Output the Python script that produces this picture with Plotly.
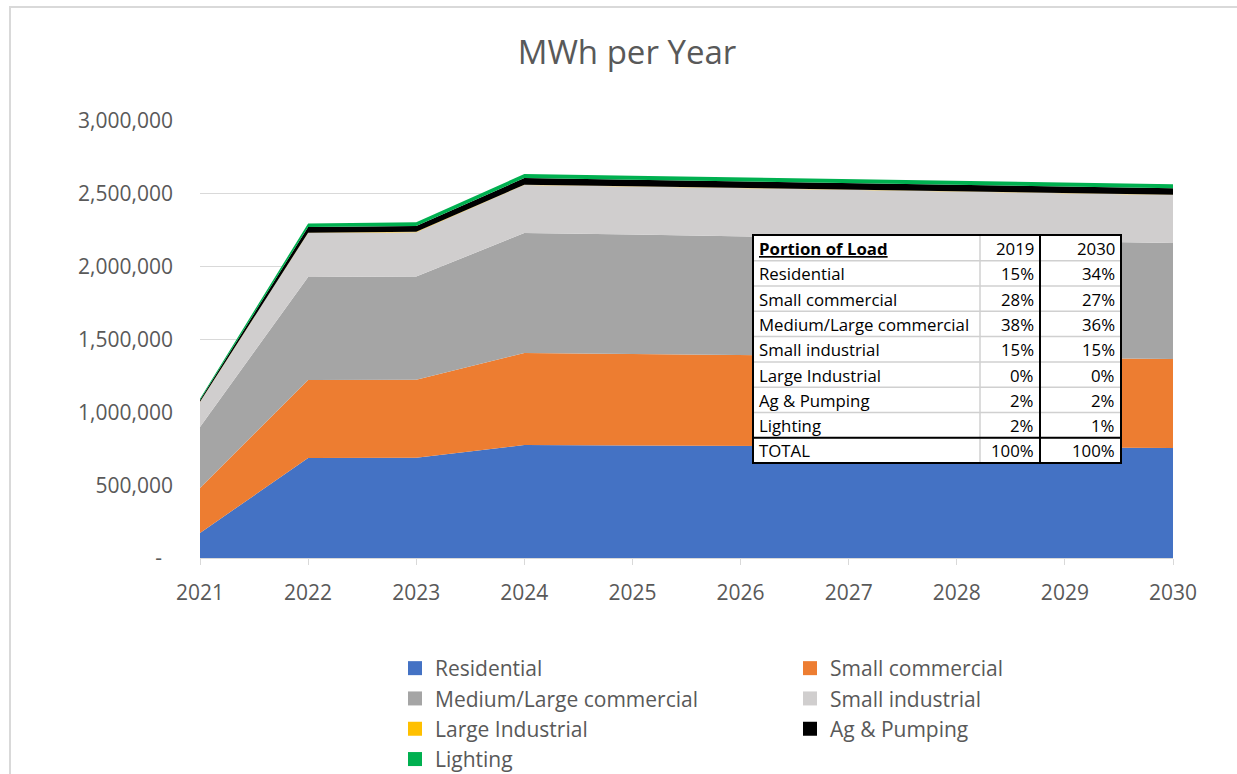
import plotly.graph_objects as go

# Annual energy by customer class (MWh)
years = [2021, 2022, 2023, 2024, 2025, 2026, 2027, 2028, 2029, 2030]
residential = [172000, 686000, 688000, 776000, 773000, 770000, 766000, 763000, 759000, 755000]
small_commercial = [308000, 536000, 536000, 631000, 628000, 624000, 621000, 618000, 614000, 611000]
medium_large_commercial = [420000, 707000, 708000, 824000, 819000, 815000, 810000, 805000, 801000, 796000]
small_industrial = [171000, 302000, 305000, 330000, 330000, 330000, 330000, 330000, 330000, 330000]
large_industrial = [1000, 2000, 2000, 2000, 2000, 2000, 2000, 2000, 2000, 2000]
ag_pumping = [12000, 40000, 41000, 45000, 45000, 45000, 44000, 44000, 44000, 44000]
lighting = [10000, 24000, 25000, 28000, 28000, 28000, 28000, 28000, 28000, 28000]

series_names = ["Residential", "Small commercial", "Medium/Large commercial",
                "Small industrial", "Large Industrial", "Ag & Pumping", "Lighting"]
series_colors = ["#4472C4", "#ED7D31", "#A5A5A5", "#D0CECE", "#FFC000", "#000000", "#00B050"]
series_values = [residential, small_commercial, medium_large_commercial,
                 small_industrial, large_industrial, ag_pumping, lighting]

y_tick_values = [0, 500000, 1000000, 1500000, 2000000, 2500000, 3000000]
y_tick_labels = ["-\u00a0\u00a0", "500,000", "1,000,000", "1,500,000", "2,000,000", "2,500,000", "3,000,000"]
x_tick_labels = [str(y) for y in years]

# Load-share table
table_header = ["Portion of Load", "2019", "2030"]
table_classes = ["Residential", "Small commercial", "Medium/Large commercial", "Small industrial",
                 "Large Industrial", "Ag & Pumping", "Lighting", "TOTAL"]
share_2019 = ["15%", "28%", "38%", "15%", "0%", "2%", "2%", "100%"]
share_2030 = ["34%", "27%", "36%", "15%", "0%", "2%", "1%", "100%"]

FONT = "Open Sans"
GREY_TEXT = "#595959"
GRID = "#D9D9D9"

# plot area in pixels
PLOT_L, PLOT_R, PLOT_T, PLOT_B = 200, 1173, 121, 558


def px_x(px):
    return (px - PLOT_L) / (PLOT_R - PLOT_L)


def px_y(py):
    return (PLOT_B - py) / (PLOT_B - PLOT_T)


fig = go.Figure()

for name, color, vals in zip(series_names, series_colors, series_values):
    fig.add_trace(go.Scatter(
        x=years, y=vals, name=name, mode="lines", stackgroup="load",
        line=dict(width=0, color=color), fillcolor=color, showlegend=False,
        hoverinfo="x+y+name",
    ))

# Legend entries (square swatches), split into two columns
left_col = [0, 2, 4, 6]
for i, (name, color) in enumerate(zip(series_names, series_colors)):
    fig.add_trace(go.Scatter(
        x=[None], y=[None], name=name, mode="markers",
        marker=dict(symbol="square", size=14, color=color),
        showlegend=True, legendgroup=name,
        legend="legend" if i in left_col else "legend2",
    ))

shapes = [
    # chart frame
    dict(type="rect", xref="paper", yref="paper", x0=px_x(10), x1=1.2, y0=-0.7, y1=px_y(7),
         line=dict(color="#D9D9D9", width=2), layer="below"),
]
annotations = []

# ---- table overlay ----
col_edges = [753, 980, 1040, 1121]
header_h, row_h = 25.7, 25.3
tbl_top = 235
row_edges = [tbl_top, tbl_top + header_h] + [tbl_top + header_h + row_h * (k + 1) for k in range(len(table_classes))]
tbl_bot = row_edges[-1]

shapes.append(dict(type="rect", xref="paper", yref="paper", x0=px_x(col_edges[0]), x1=px_x(col_edges[-1]),
                   y0=px_y(tbl_bot), y1=px_y(tbl_top), fillcolor="white", line=dict(width=0), layer="above"))
for ry in row_edges[1:-1]:
    shapes.append(dict(type="line", xref="paper", yref="paper", x0=px_x(col_edges[0]), x1=px_x(col_edges[-1]),
                       y0=px_y(ry), y1=px_y(ry), line=dict(color="#D0D0D0", width=1.5), layer="above"))
shapes.append(dict(type="line", xref="paper", yref="paper", x0=px_x(col_edges[1]), x1=px_x(col_edges[1]),
                   y0=px_y(tbl_bot), y1=px_y(tbl_top), line=dict(color="#D0D0D0", width=1.5), layer="above"))
# black borders: outline, column split before 2030, rule above TOTAL
shapes += [
    dict(type="rect", xref="paper", yref="paper", x0=px_x(col_edges[0]), x1=px_x(col_edges[-1]),
         y0=px_y(tbl_bot), y1=px_y(tbl_top), line=dict(color="#000000", width=2), layer="above"),
    dict(type="line", xref="paper", yref="paper", x0=px_x(col_edges[2]), x1=px_x(col_edges[2]),
         y0=px_y(tbl_bot), y1=px_y(tbl_top), line=dict(color="#000000", width=2), layer="above"),
    dict(type="line", xref="paper", yref="paper", x0=px_x(col_edges[0]), x1=px_x(col_edges[-1]),
         y0=px_y(row_edges[-2]), y1=px_y(row_edges[-2]), line=dict(color="#000000", width=2), layer="above"),
]

table_rows = [["<b><u>" + table_header[0] + "</u></b>", table_header[1], table_header[2]]]
table_rows += [[c, a, b] for c, a, b in zip(table_classes, share_2019, share_2030)]
for r, row in enumerate(table_rows):
    yc = (row_edges[r] + row_edges[r + 1]) / 2
    for c, txt in enumerate(row):
        if c == 0:
            xpos, anchor = col_edges[0] + 4, "left"
        else:
            xpos, anchor = col_edges[c + 1] - 4, "right"
        annotations.append(dict(
            text=txt, xref="paper", yref="paper", x=px_x(xpos), y=px_y(yc + 0.5),
            xanchor=anchor, yanchor="middle", showarrow=False,
            font=dict(family=FONT, size=16.8, color="#000000"),
        ))

legend_common = dict(
    orientation="v", xref="container", yref="container", xanchor="left", yanchor="top",
    font=dict(family=FONT, size=21, color=GREY_TEXT), bgcolor="rgba(0,0,0,0)",
    tracegroupgap=0, itemsizing="trace",
)

fig.update_layout(
    width=1237, height=774,
    margin=dict(l=PLOT_L, r=1237 - PLOT_R, t=PLOT_T, b=774 - PLOT_B, autoexpand=False),
    paper_bgcolor="white", plot_bgcolor="white",
    title=dict(text="MWh per Year", x=627 / 1237, xref="container", xanchor="center",
               y=1 - 52 / 774, yref="container", yanchor="middle",
               font=dict(family=FONT, size=33, color=GREY_TEXT)),
    xaxis=dict(range=[2021, 2030], tickvals=years, ticktext=x_tick_labels, automargin=False,
               showgrid=False, zeroline=False, showline=True, linecolor=GRID, linewidth=1,
               ticks="outside", ticklen=6, tickcolor=GRID, ticklabelstandoff=10,
               tickfont=dict(family=FONT, size=21, color=GREY_TEXT), fixedrange=True),
    yaxis=dict(range=[0, 3000000], tickvals=y_tick_values, ticktext=y_tick_labels, automargin=False,
               showgrid=True, gridcolor=GRID, gridwidth=1, zeroline=False, showline=False,
               ticks="", ticklabelstandoff=26,
               tickfont=dict(family=FONT, size=21, color=GREY_TEXT), fixedrange=True),
    legend=dict(x=395 / 1237, y=1 - 648 / 774, **legend_common),
    legend2=dict(x=790 / 1237, y=1 - 648 / 774, **legend_common),
    shapes=shapes,
    annotations=annotations,
    hovermode="x unified",
)

fig.write_html("out.html")
